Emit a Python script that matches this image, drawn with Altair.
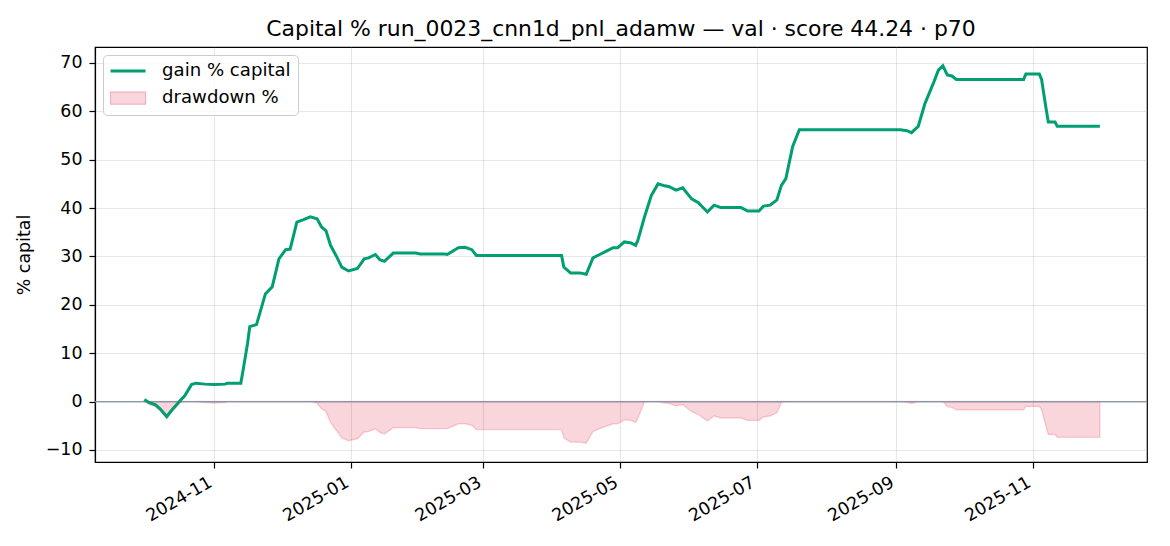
import altair as alt
import pandas as pd

# ---- data ----
dates = [
    "2024-10-01", "2024-10-03", "2024-10-06", "2024-10-08", "2024-10-11", "2024-10-13", "2024-10-17", "2024-10-19", "2024-10-22", "2024-10-24",
    "2024-10-28", "2024-11-01", "2024-11-06", "2024-11-07", "2024-11-13", "2024-11-14", "2024-11-16", "2024-11-17", "2024-11-20", "2024-11-21",
    "2024-11-24", "2024-11-27", "2024-11-30", "2024-12-03", "2024-12-05", "2024-12-08", "2024-12-11", "2024-12-14", "2024-12-17", "2024-12-19",
    "2024-12-21", "2024-12-23", "2024-12-26", "2024-12-28", "2024-12-31", "2025-01-04", "2025-01-07", "2025-01-09", "2025-01-12", "2025-01-14",
    "2025-01-16", "2025-01-20", "2025-01-30", "2025-02-01", "2025-02-12", "2025-02-13", "2025-02-18", "2025-02-21", "2025-02-24", "2025-02-26",
    "2025-04-05", "2025-04-06", "2025-04-09", "2025-04-13", "2025-04-16", "2025-04-19", "2025-04-22", "2025-04-25", "2025-04-28", "2025-04-30",
    "2025-05-03", "2025-05-06", "2025-05-08", "2025-05-09", "2025-05-12", "2025-05-15", "2025-05-18", "2025-05-21", "2025-05-23", "2025-05-26",
    "2025-05-29", "2025-06-02", "2025-06-05", "2025-06-09", "2025-06-12", "2025-06-15", "2025-06-24", "2025-06-27", "2025-07-02", "2025-07-04",
    "2025-07-07", "2025-07-10", "2025-07-12", "2025-07-14", "2025-07-17", "2025-07-20", "2025-09-03", "2025-09-06", "2025-09-08", "2025-09-11",
    "2025-09-14", "2025-09-18", "2025-09-20", "2025-09-22", "2025-09-24", "2025-09-26", "2025-09-28", "2025-10-28", "2025-10-29", "2025-11-04",
    "2025-11-05", "2025-11-07", "2025-11-08", "2025-11-11", "2025-11-12", "2025-12-01",
]

gain_pct = [
    0.4, -0.2, -0.7, -1.5, -3.1, -1.9, 0.2, 1.2, 3.5, 3.8,
    3.6, 3.5, 3.6, 3.8, 3.8, 6.4, 12.0, 15.5, 15.9, 17.5,
    22.3, 23.7, 29.5, 31.4, 31.5, 37.1, 37.6, 38.2, 37.8, 36.1,
    35.3, 32.3, 29.7, 27.8, 27.0, 27.5, 29.5, 29.7, 30.4, 29.3,
    29.0, 30.7, 30.7, 30.5, 30.5, 30.4, 31.8, 31.9, 31.4, 30.2,
    30.2, 27.8, 26.6, 26.6, 26.3, 29.7, 30.4, 31.1, 31.8, 31.8,
    33.0, 32.8, 32.3, 33.3, 38.2, 42.6, 45.0, 44.6, 44.4, 43.7,
    44.2, 41.9, 41.1, 39.2, 40.6, 40.1, 40.1, 39.4, 39.4, 40.4,
    40.6, 41.7, 44.7, 46.1, 52.7, 56.2, 56.2, 56.0, 55.6, 56.9,
    61.6, 66.1, 68.5, 69.4, 67.5, 67.3, 66.6, 66.6, 67.7, 67.7,
    66.6, 60.6, 57.8, 57.8, 56.9, 56.9,
]

drawdown_pct = [
    0.0, -0.6, -1.1, -1.9, -3.5, -2.3, -0.2, 0.0, 0.0, 0.0,
    -0.2, -0.3, -0.2, 0.0, 0.0, 0.0, 0.0, 0.0, 0.0, 0.0,
    0.0, 0.0, 0.0, 0.0, 0.0, 0.0, 0.0, 0.0, -0.3, -1.5,
    -2.1, -4.3, -6.2, -7.5, -8.1, -7.7, -6.3, -6.2, -5.6, -6.4,
    -6.7, -5.4, -5.4, -5.6, -5.6, -5.6, -4.6, -4.6, -4.9, -5.8,
    -5.8, -7.5, -8.4, -8.4, -8.6, -6.2, -5.6, -5.1, -4.6, -4.6,
    -3.8, -3.9, -4.3, -3.5, 0.0, 0.0, 0.0, -0.3, -0.4, -0.9,
    -0.6, -2.1, -2.7, -4.0, -3.0, -3.4, -3.4, -3.9, -3.9, -3.2,
    -3.0, -2.3, -0.2, 0.0, 0.0, 0.0, 0.0, -0.1, -0.4, 0.0,
    0.0, 0.0, 0.0, 0.0, -1.1, -1.2, -1.7, -1.7, -1.0, -1.0,
    -1.7, -5.2, -6.8, -6.8, -7.4, -7.4,
]

legend_labels = ["gain % capital", "drawdown %"]
zero_level = [0]
y_ticks = [-10, 0, 10, 20, 30, 40, 50, 60, 70]
x_tick_months = [(2024, 11), (2025, 1), (2025, 3), (2025, 5), (2025, 7), (2025, 9), (2025, 11)]
title_text = "Capital % run_0023_cnn1d_pnl_adamw — val · score 44.24 · p70"

# ---- styling ----
FONT = "DejaVu Sans"
GREEN = "#009E73"
DD_COLOR = "crimson"

df = pd.DataFrame({"date": dates, "gain": gain_pct, "dd": drawdown_pct})
leg_df = pd.DataFrame({"series": legend_labels})
zero_df = pd.DataFrame({"level": zero_level})

x_scale = alt.Scale(
    type="utc",
    domain=[alt.DateTime(year=2024, month=9, date=9, utc=True),
            alt.DateTime(year=2025, month=12, date=22, utc=True)],
)
x_axis = alt.Axis(
    values=[alt.DateTime(year=y, month=m, date=1, utc=True) for y, m in x_tick_months],
    format="%Y-%m", labelAngle=330, labelAlign="right",
    labelBaseline="top", labelOffset=-8, labelPadding=5, title=None,
)
y_scale = alt.Scale(domain=[-12.5, 73.3], nice=False, zero=False)
y_axis = alt.Axis(values=y_ticks, title="% capital", labelPadding=7, titlePadding=12)

area = alt.Chart(df).mark_area(
    color=DD_COLOR, fillOpacity=0.18, stroke=DD_COLOR, strokeOpacity=0.18, strokeWidth=1.4
).encode(
    x=alt.X("date:T", scale=x_scale, axis=x_axis),
    y=alt.Y("dd:Q", scale=y_scale, axis=y_axis),
    y2=alt.datum(0),
)

zero_rule = alt.Chart(zero_df).mark_rule(color="#8a97a8", strokeWidth=1.3).encode(
    y=alt.Y("level:Q", scale=y_scale, axis=y_axis)
)

line = alt.Chart(df).mark_line(color=GREEN, strokeWidth=3.0).encode(
    x=alt.X("date:T", scale=x_scale, axis=x_axis),
    y=alt.Y("gain:Q", scale=y_scale, axis=y_axis),
)

legend_layer = alt.Chart(leg_df).mark_point(filled=True, opacity=0).encode(
    color=alt.Color(
        "series:N",
        scale=alt.Scale(domain=legend_labels, range=[GREEN, "#f9d5dc"]),
        legend=alt.Legend(
            title=None, orient="top-left", offset=8, padding=7,
            fillColor="rgba(255,255,255,0.8)", strokeColor="#cccccc", cornerRadius=4,
            labelFont=FONT, labelFontSize=18.1, labelColor="black",
            symbolSize=400, symbolOpacity=1, rowPadding=8,
            symbolOffset=9, labelOffset=25,
            symbolType=alt.ExprRef(expr="datum.value == 'gain % capital' ? 'M-1.75,0H1.75' : 'M-1.75,-0.6H1.75V0.6H-1.75Z'"),
            symbolStrokeColor=alt.ExprRef(expr="datum.value == 'gain % capital' ? '#009E73' : '#f3b1bf'"),
            symbolStrokeWidth=alt.ExprRef(expr="datum.value == 'gain % capital' ? 3.0 : 1.2"),
        ),
    )
)

chart = alt.layer(area, zero_rule, line, legend_layer).properties(
    width=1052, height=415,
    title=alt.TitleParams(title_text, font=FONT, fontSize=21.9, fontWeight="normal",
                          color="black", anchor="middle", baseline="alphabetic", offset=10, dy=21),
    autosize=alt.AutoSizeParams(type="none"),
    padding={"left": 87, "top": 39, "right": 15, "bottom": 76},
    background="white",
).configure_view(
    stroke="black", strokeWidth=1.2
).configure_axis(
    domainColor="black", domainWidth=1.2, tickColor="black", tickWidth=1.2, tickSize=6,
    labelFont=FONT, labelFontSize=17.4, labelColor="black",
    titleFont=FONT, titleFontSize=17.4, titleFontWeight="normal", titleColor="black",
    gridColor="#b0b0b0", gridOpacity=0.3, gridWidth=1.1,
)

chart.save("out.html", embed_options={"renderer": "svg", "actions": False})
